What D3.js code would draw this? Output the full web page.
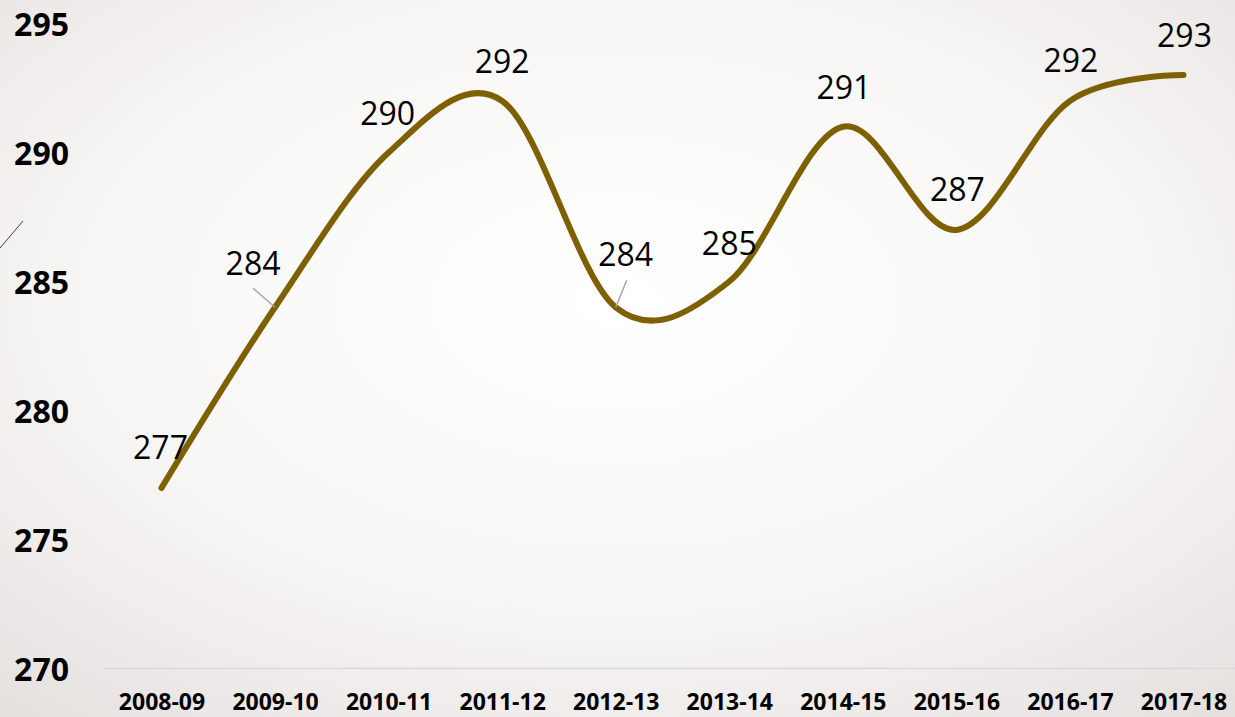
<!DOCTYPE html>
<html>
<head>
<meta charset="utf-8">
<script src="https://cdn.jsdelivr.net/npm/d3@7"></script>
<style>
  body { margin: 0; overflow: hidden; }
  svg { display: block; }
</style>
</head>
<body>
<script>
// chart data
var years = ["2008-09", "2009-10", "2010-11", "2011-12", "2012-13",
             "2013-14", "2014-15", "2015-16", "2016-17", "2017-18"];
var values = [277, 284, 290, 292, 284, 285, 291, 287, 292, 293];
var yTicks = [270, 275, 280, 285, 290, 295];

var width = 1235;
var height = 717;

var svg = d3.select("body")
    .append("svg")
        .attr("width", width)
        .attr("height", height);

// soft radial background
var grad = svg.append("defs").append("radialGradient")
    .attr("id", "bg")
    .attr("cx", "50%").attr("cy", "42%").attr("r", "75%");
grad.append("stop").attr("offset", "0%").attr("stop-color", "#ffffff");
grad.append("stop").attr("offset", "55%").attr("stop-color", "#f8f7f6");
grad.append("stop").attr("offset", "100%").attr("stop-color", "#e6e1df");
svg.append("rect")
    .attr("width", width).attr("height", height)
    .attr("fill", "url(#bg)");

var x = d3.scalePoint().domain(years).range([161.5, 1183.5]);
var y = d3.scaleLinear().domain([270, 295]).range([668.5, 23.5]);

// baseline
svg.append("line")
    .attr("x1", 104).attr("x2", width)
    .attr("y1", y(270)).attr("y2", y(270))
    .attr("stroke", "#d9d9d9")
    .attr("stroke-width", 1.5);

// stray tick at the left edge
svg.append("line")
    .attr("x1", 0).attr("y1", 248)
    .attr("x2", 23).attr("y2", 221)
    .attr("stroke", "#404040")
    .attr("stroke-width", 1);

// y axis labels
var yAxis = d3.axisLeft(y).tickValues(yTicks).tickSize(0).tickPadding(0);
var yAxisGroup = svg.append("g")
    .attr("transform", "translate(69, 0)")
    .call(yAxis);
yAxisGroup.select(".domain").remove();
yAxisGroup.selectAll("text")
    .attr("font-family", "'Open Sans', sans-serif")
    .attr("font-size", "32px")
    .attr("font-weight", "bold")
    .attr("fill", "#000")
    .attr("dy", "0.36em");

// x axis labels
var xAxis = d3.axisBottom(x).tickSize(0).tickPadding(0);
var xAxisGroup = svg.append("g")
    .attr("transform", "translate(0, 702)")
    .call(xAxis);
xAxisGroup.select(".domain").remove();
xAxisGroup.selectAll("text")
    .attr("font-family", "'Open Sans', sans-serif")
    .attr("font-size", "23px")
    .attr("font-weight", "bold")
    .attr("fill", "#000")
    .attr("dy", "0.36em")
    .attr("y", 0);

// smoothed line
var line = d3.line()
    .x(function(d, i) { return x(years[i]); })
    .y(function(d) { return y(d); })
    .curve(d3.curveCardinal.tension(0));

svg.append("path")
    .datum(values)
    .attr("d", line)
    .attr("fill", "none")
    .attr("stroke", "#7f6000")
    .attr("stroke-width", 6)
    .attr("stroke-linecap", "round");

// label placement (offset from point, in px)
var labelShift = [[-1, -40], [-22, -44], [-1, -39], [0, -39], [10, -53],
                  [0, -38.5], [1, -39], [1, -40], [1, -40], [1, -40]];
var leaders = [1, 4];

leaders.forEach(function(i) {
    var px = x(years[i]), py = y(values[i]);
    var lx = px + labelShift[i][0], ly = py + labelShift[i][1];
    svg.append("line")
        .attr("x1", i === 1 ? lx : lx + 1)
        .attr("y1", i === 1 ? ly + 25 : ly + 26)
        .attr("x2", px).attr("y2", py)
        .attr("stroke", "#a6a6a6")
        .attr("stroke-width", 1.5);
});

svg.selectAll(".data-label")
    .data(values)
    .enter().append("text")
        .attr("class", "data-label")
        .attr("x", function(d, i) { return x(years[i]) + labelShift[i][0]; })
        .attr("y", function(d, i) { return y(d) + labelShift[i][1]; })
        .attr("dy", "0.36em")
        .attr("text-anchor", "middle")
        .attr("font-family", "'Open Sans', sans-serif")
        .attr("font-size", "32px")
        .attr("fill", "#000")
        .text(function(d) { return d; });
</script>
</body>
</html>
